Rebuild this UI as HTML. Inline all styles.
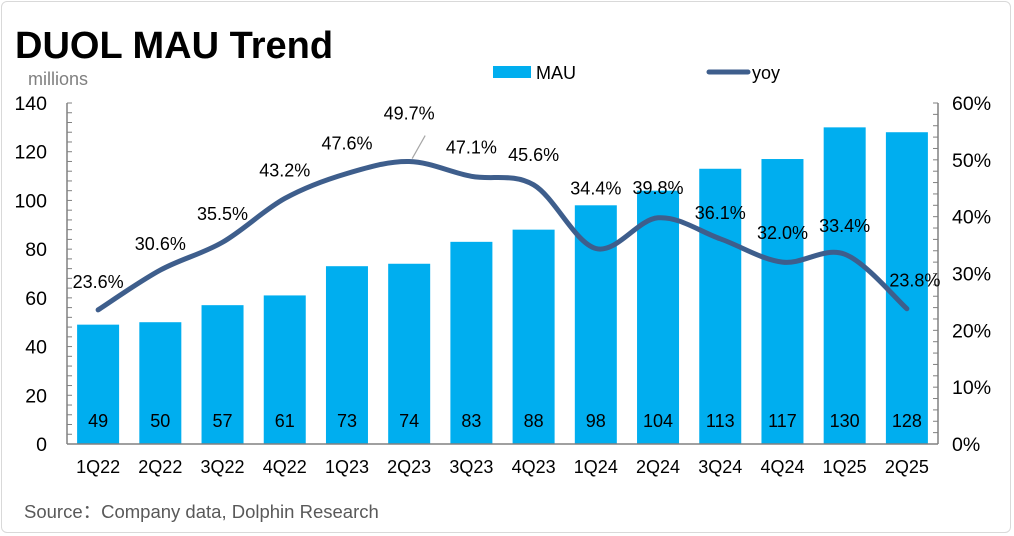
<!DOCTYPE html>
<html><head><meta charset="utf-8">
<style>
html,body{margin:0;padding:0;background:#fff;}
body{width:1014px;height:536px;overflow:hidden;font-family:"Liberation Sans","Noto Sans CJK SC",sans-serif;}
#frame{position:absolute;left:1px;top:1px;width:1010px;height:532px;border:1px solid #d9d9d9;border-radius:6px;box-sizing:border-box;}
</style></head>
<body>
<div id="frame"></div>
<svg id="chart" width="1014" height="536" style="position:absolute;left:0;top:0">
<text x="15" y="58" font-size="38" font-weight="bold" fill="#000">DUOL MAU Trend</text>
<text x="28" y="85" font-size="18" fill="#808080">millions</text>
<g>
<rect x="493" y="66" width="38" height="12" fill="#00AEEF"/>
<text x="536" y="79" font-size="18" fill="#000">MAU</text>
<line x1="709" y1="72" x2="748" y2="72" stroke="#3E5E8C" stroke-width="5" stroke-linecap="round"/>
<text x="752" y="79" font-size="18" fill="#000">yoy</text>
</g>
<text x="24" y="518" font-size="18.5" fill="#595959">Source：Company data, Dolphin Research</text>
<g id="plot"></g>
</svg>
<script>
const categories=["1Q22","2Q22","3Q22","4Q22","1Q23","2Q23","3Q23","4Q23","1Q24","2Q24","3Q24","4Q24","1Q25","2Q25"];
const mauValues=[49,50,57,61,73,74,83,88,98,104,113,117,130,128];
const mauLabels=["49","50","57","61","73","74","83","88","98","104","113","117","130","128"];
const yoyValues=[23.6,30.6,35.5,43.2,47.6,49.7,47.1,45.6,34.4,39.8,36.1,32.0,33.4,23.8];
const leftTicks=[0,20,40,60,80,100,120,140];
const rightTicks=[0,10,20,30,40,50,60];
const labelDy=[-28,-26,-28,-28,-30,-48,-29,-30,-60,-30,-26,-29,-28,-28];
const labelDx=[0,0,0,0,0,0,0,0,0,0,0,0,0,8];

const NS="http://www.w3.org/2000/svg";
const g=document.getElementById('plot');
const X0=67,X1=938,Y0=444,Y1=103;
const step=(X1-X0)/categories.length;
const xPos=i=>X0+step*(i+0.5);
const yL=v=>Y0-(v/140)*(Y0-Y1);
const yR=v=>Y0-(v/60)*(Y0-Y1);
function mk(tag,attrs){const e=document.createElementNS(NS,tag);for(const k in attrs)e.setAttribute(k,attrs[k]);g.appendChild(e);return e;}

mauValues.forEach((v,i)=>{
 const b=mk('rect',{x:xPos(i)-21,y:yL(v),width:42,height:Y0-yL(v),fill:'#00AEEF'});
 
 
 const t=mk('text',{x:xPos(i),y:427,'font-size':18,'text-anchor':'middle',fill:'#000'});
 t.textContent=mauLabels[i];
 
 
 const c=mk('text',{x:xPos(i),y:473,'font-size':18,'text-anchor':'middle',fill:'#000'});
 c.textContent=categories[i];
 
 
});
const la=mk('line',{x1:X0,y1:Y1,x2:X0,y2:Y0,stroke:'#808080','stroke-width':1.5});


const ra=mk('line',{x1:X1,y1:Y1,x2:X1,y2:Y0,stroke:'#808080','stroke-width':1.5});


const xa=mk('line',{x1:X0,y1:Y0,x2:X1,y2:Y0,stroke:'#808080','stroke-width':1.5});


for(let v=0;v<=140;v+=4){const y=yL(v);mk('line',{x1:X0,y1:y,x2:X0+5,y2:y,stroke:'#808080','stroke-width':1});}
for(let v=0;v<=60;v+=2){const y=yR(v);mk('line',{x1:X1-5,y1:y,x2:X1,y2:y,stroke:'#808080','stroke-width':1});}
leftTicks.forEach(v=>{const t=mk('text',{x:47,y:yL(v)+7,'font-size':19.5,'text-anchor':'end',fill:'#000'});t.textContent=v;
 
 });
rightTicks.forEach(v=>{const t=mk('text',{x:952,y:yR(v)+7,'font-size':19.5,fill:'#000'});t.textContent=v+'%';
 
 });
const pts=yoyValues.map((v,i)=>[xPos(i),yR(v)]);
let d='M'+pts[0][0]+','+pts[0][1];
for(let i=0;i<pts.length-1;i++){
 const p0=pts[Math.max(0,i-1)],p1=pts[i],p2=pts[i+1],p3=pts[Math.min(pts.length-1,i+2)];
 const c1=[p1[0]+(p2[0]-p0[0])/6,p1[1]+(p2[1]-p0[1])/6];
 const c2=[p2[0]-(p3[0]-p1[0])/6,p2[1]-(p3[1]-p1[1])/6];
 d+=' C'+c1[0]+','+c1[1]+' '+c2[0]+','+c2[1]+' '+p2[0]+','+p2[1];
}
const line=mk('path',{d:d,fill:'none',stroke:'#3E5E8C','stroke-width':5,'stroke-linecap':'round'});


yoyValues.forEach((v,i)=>{
 const x=xPos(i)+labelDx[i],y=yR(v)+labelDy[i];
 if(i===5){const l=mk('line',{x1:xPos(i)+3,y1:yR(v)-3,x2:xPos(i)+16,y2:yR(v)-26,stroke:'#a6a6a6','stroke-width':1.2});
  
  }
 const t=mk('text',{x:x,y:y+6,'font-size':18,'text-anchor':'middle',fill:'#000'});
 t.textContent=v.toFixed(1)+'%';
 
 
});
</script>
</body></html>
